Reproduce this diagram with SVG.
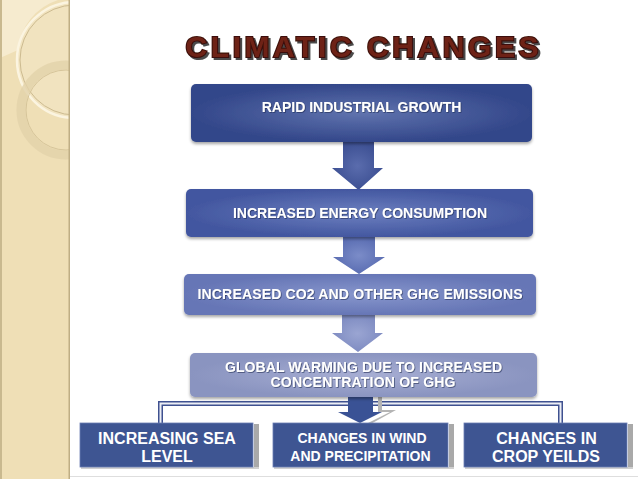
<svg xmlns="http://www.w3.org/2000/svg" width="638" height="479" viewBox="0 0 638 479">
<defs>
<style>
.t{font-family:"Liberation Sans",Arial,sans-serif;font-weight:bold;fill:#ffffff;text-anchor:middle}
.conn{fill:none;stroke:#3f5190;stroke-width:5}
.conn2{fill:none;stroke:#eceef4;stroke-width:2}
.bb{fill:#3e5592;stroke:#6a7db3;stroke-width:0.8}
.bsh{fill:#a9a9a9}
</style>
<radialGradient id="g1"><stop offset="0" stop-color="#6073ae"/><stop offset="1" stop-color="#33478a"/></radialGradient>
<radialGradient id="g2"><stop offset="0" stop-color="#6c7fbf"/><stop offset="1" stop-color="#4357a0"/></radialGradient>
<radialGradient id="g3"><stop offset="0" stop-color="#8796cc"/><stop offset="1" stop-color="#6676b6"/></radialGradient>
<radialGradient id="g4"><stop offset="0" stop-color="#a7aed3"/><stop offset="1" stop-color="#8a94c0"/></radialGradient>
<radialGradient id="a1"><stop offset="0" stop-color="#5a6cad"/><stop offset="1" stop-color="#3d5093"/></radialGradient>
<radialGradient id="a2"><stop offset="0" stop-color="#7b8cc8"/><stop offset="1" stop-color="#5a6db2"/></radialGradient>
<radialGradient id="a3"><stop offset="0" stop-color="#9aa5d2"/><stop offset="1" stop-color="#7f8cc2"/></radialGradient>
<filter id="sh" x="-5%" y="-10%" width="110%" height="130%"><feDropShadow dx="0" dy="2" stdDeviation="1.5" flood-color="#000" flood-opacity="0.35"/></filter>
<filter id="ts" x="-5%" y="-20%" width="110%" height="150%"><feDropShadow dx="0.8" dy="0.8" stdDeviation="0.4" flood-color="#1a2650" flood-opacity="0.7"/></filter>
<filter id="tts" x="-5%" y="-20%" width="110%" height="150%"><feDropShadow dx="2" dy="2" stdDeviation="0.6" flood-color="#2a2a2a" flood-opacity="0.85"/></filter>
<clipPath id="strip"><rect x="0" y="0" width="70" height="479"/></clipPath>
</defs>
<rect width="638" height="479" fill="#ffffff"/>
<g id="sidebar" clip-path="url(#strip)">
<rect x="0" y="0" width="70" height="479" fill="#efdfb6"/>
<path d="M0,0 H58 A58,58 0 0 0 18,50 L0,58 Z" fill="#f6ebcf"/>
<circle cx="75" cy="60" r="58" fill="#f4e8c8" fill-opacity="0.5"/>
<circle cx="75" cy="60" r="58" fill="none" stroke="#fbf4e0" stroke-width="2.5"/>
<circle cx="75" cy="60" r="55" fill="none" stroke="#cdbb90" stroke-width="1"/>
<circle cx="66" cy="110" r="45" fill="none" stroke="#e2d2aa" stroke-width="9" stroke-opacity="0.8"/>
<circle cx="66" cy="110" r="40" fill="none" stroke="#d6c59a" stroke-width="1"/>
<rect x="0" y="0" width="2" height="479" fill="#c9b98f"/>
<rect x="68.5" y="0" width="1.5" height="479" fill="#bfae84"/>
</g>
<line x1="70" y1="476.5" x2="638" y2="476.5" stroke="#dedede" stroke-width="1"/>
<g id="title">
<text x="362" y="57" font-family="Liberation Sans,Arial,sans-serif" font-weight="bold" font-size="30" text-anchor="middle" textLength="353" fill="#6e2416" stroke="#3b0f08" stroke-width="2.2" paint-order="stroke" filter="url(#tts)">CLIMATIC CHANGES</text>
</g>
<g id="connectors">
<polygon points="343,142 374,142 374,168 383,168 358.5,190 332,168 343,168" fill="url(#a1)"/>
<polygon points="343,237 375,237 375,257 385,257 359,274 333,257 343,257" fill="url(#a2)"/>
<polygon points="342,315 375,315 375,333 383,333 358,352 332,333 342,333" fill="url(#a3)"/>
<path class="conn" d="M160.5,423 V403.5 H560.5 V423"/>
<path class="conn2" d="M160.5,423 V403.5 H560.5 V423"/>
<polygon points="378,397 382,397 382,410 396,410 367,426 364,425 390,412 378,412" fill="#b4b4b4"/>
<polygon points="348,397 373,397 373,412 382,412 360,423 338,412 348,412" fill="#3a5295"/>
</g>
<g id="n1">
<rect x="191" y="84" width="341" height="58" rx="5" fill="url(#g1)" filter="url(#sh)"/>
<text class="t" x="361.5" y="112" font-size="14" filter="url(#ts)">RAPID INDUSTRIAL GROWTH</text>
</g>
<g id="n2">
<rect x="186" y="189" width="347" height="48" rx="5" fill="url(#g2)" filter="url(#sh)"/>
<text class="t" x="360" y="218" font-size="14" filter="url(#ts)">INCREASED ENERGY CONSUMPTION</text>
</g>
<g id="n3">
<rect x="184" y="274" width="352" height="41" rx="5" fill="url(#g3)" filter="url(#sh)"/>
<text class="t" x="360" y="299" font-size="14" textLength="325" filter="url(#ts)">INCREASED CO2 AND OTHER GHG EMISSIONS</text>
</g>
<g id="n4">
<rect x="190" y="353" width="347" height="44" rx="5" fill="url(#g4)" filter="url(#sh)"/>
<text class="t" x="363.5" y="372" font-size="14" textLength="277" filter="url(#ts)">GLOBAL WARMING DUE TO INCREASED</text>
<text class="t" x="363" y="387" font-size="14" textLength="185" filter="url(#ts)">CONCENTRATION OF GHG</text>
</g>
<g id="n5">
<rect class="bsh" x="254" y="424" width="5" height="45"/>
<rect x="81" y="467" width="178" height="2" fill="#d0d0d0"/>
<rect class="bb" x="80" y="423" width="173" height="44"/>
<text class="t" x="167" y="444" font-size="16">INCREASING SEA</text>
<text class="t" x="167" y="462" font-size="16">LEVEL</text>
</g>
<g id="n6">
<rect class="bsh" x="449" y="424" width="5" height="45"/>
<rect x="274" y="467" width="180" height="2" fill="#d0d0d0"/>
<rect class="bb" x="273" y="423" width="175" height="44"/>
<text class="t" x="362" y="443" font-size="14">CHANGES IN WIND</text>
<text class="t" x="360.5" y="461" font-size="14">AND PRECIPITATION</text>
</g>
<g id="n7">
<rect class="bsh" x="628" y="424" width="5" height="45"/>
<rect x="465" y="467" width="168" height="2" fill="#d0d0d0"/>
<rect class="bb" x="464" y="423" width="163" height="44"/>
<text class="t" x="546.5" y="444" font-size="16">CHANGES IN</text>
<text class="t" x="546" y="462" font-size="16">CROP YEILDS</text>
</g>
</svg>
